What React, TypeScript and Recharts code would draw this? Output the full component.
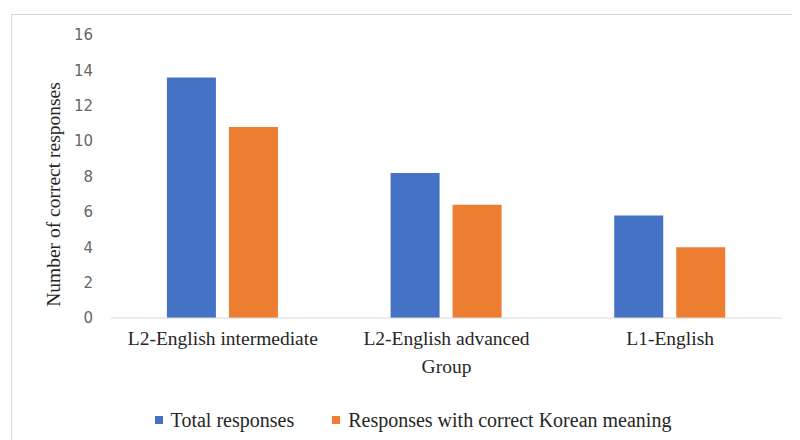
import React from 'react';
import { BarChart, Bar, XAxis, YAxis, Legend } from 'recharts';

const categories = ['L2-English intermediate', 'L2-English advanced', 'L1-English'];
const totalResponses = [13.6, 8.2, 5.8];
const koreanMeaning = [10.8, 6.4, 4.0];
const yTicks = [0, 2, 4, 6, 8, 10, 12, 14, 16];
const seriesOrder = ['total', 'korean'];

const data = categories.map((group, i) => ({
  group,
  total: totalResponses[i],
  korean: koreanMeaning[i],
}));

const FONT = '"Liberation Serif", "Times New Roman", serif';

const renderLegend = (props: any) => {
  const payload = [...(props.payload || [])].sort(
    (a: any, b: any) => seriesOrder.indexOf(a.dataKey) - seriesOrder.indexOf(b.dataKey)
  );
  return (
    <div style={{ display: 'flex', justifyContent: 'center', paddingLeft: 36, fontFamily: FONT, fontSize: 20, color: '#262626', lineHeight: '22px' }}>
      {payload.map((entry: any, i: number) => (
        <div key={i} style={{ display: 'flex', alignItems: 'center', marginLeft: i === 0 ? 0 : 38 }}>
          <span style={{ display: 'inline-block', width: 8, height: 8, background: entry.color, marginRight: 8 }} />
          <span>{entry.value}</span>
        </div>
      ))}
    </div>
  );
};

export default function App() {
  return (
    <div style={{ position: 'relative', width: 792, height: 432, overflow: 'hidden', background: '#fff' }}>
      <div style={{ position: 'absolute', left: 3, top: 6, width: 787, height: 440, border: '1px solid #d9d9d9', boxSizing: 'border-box' }} />
      <BarChart
        width={792}
        height={432}
        data={data}
        margin={{ top: 27, right: 18, bottom: 9, left: 0 }}
        barCategoryGap="25%"
        barGap={13}
      >
        <XAxis
          dataKey="group"
          tickLine={false}
          tickSize={0}
          tickMargin={13}
          axisLine={{ stroke: '#d9d9d9' }}
          height={91}
          tick={{ fontFamily: FONT, fontSize: 19.5, fill: '#262626' }}
          label={{ value: 'Group', position: 'insideBottom', offset: 36, style: { fontFamily: FONT, fontSize: 19.5, fill: '#262626' } }}
        />
        <YAxis
          domain={[0, 16]}
          ticks={yTicks}
          width={103}
          axisLine={false}
          tickLine={false}
          tickSize={0}
          tickMargin={18}
          tick={{ fontFamily: '"DejaVu Sans", sans-serif', fontSize: 15, fill: '#666666' }}
          label={{ value: 'Number of correct responses', angle: -90, position: 'center', dx: -6, dy: 18, style: { fontFamily: FONT, fontSize: 19.5, fill: '#262626', textAnchor: 'middle' } }}
        />
        <Legend verticalAlign="bottom" content={renderLegend} />
        <Bar dataKey="total" name="Total responses" fill="#4472C4" isAnimationActive={false} />
        <Bar dataKey="korean" name="Responses with correct Korean meaning" fill="#ED7D31" isAnimationActive={false} />
      </BarChart>
    </div>
  );
}
